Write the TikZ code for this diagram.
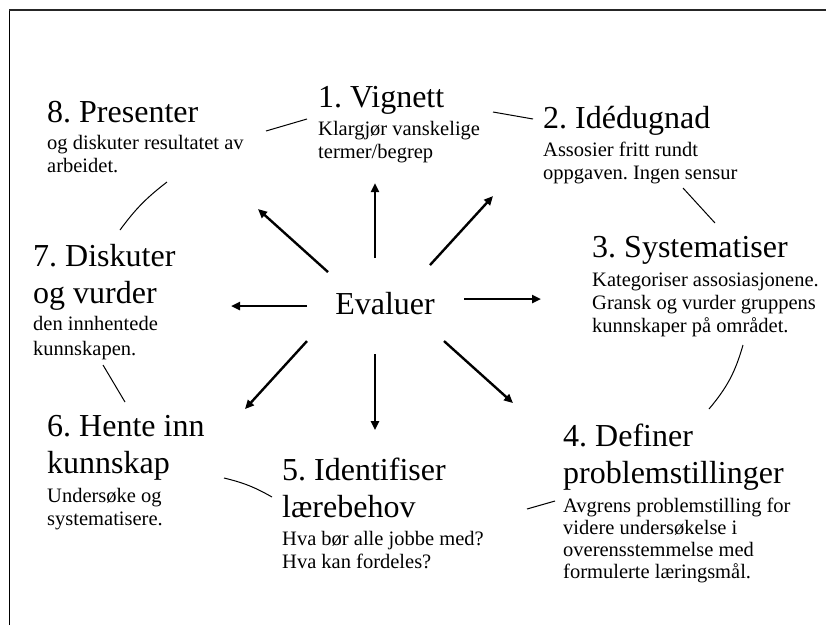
\documentclass[tikz,border=0pt]{standalone}
\usepackage{fontspec}
\setmainfont{Liberation Serif}
\usepackage{tikz}
\usetikzlibrary{arrows.meta, calc}
\tikzset{
  steptitle/.style={anchor=base west, inner sep=0pt, align=left, font=\fontsize{32}{37}\selectfont},
  stepbody/.style={anchor=base west, inner sep=0pt, align=left, font=\fontsize{20.5}{23}\selectfont},
  spoke/.style={-{Triangle[length=9pt, width=8pt]}, line width=2.4pt},
  ringline/.style={line width=1pt},
}

\begin{document}
\frenchspacing
\begin{tikzpicture}[x=1pt, y=-1pt]
  \useasboundingbox (0,0) rectangle (826,625);

  % Frame
  \coordinate (fr0) at (9,625);
  \coordinate (fr1) at (9,10);
  \coordinate (fr2) at (826,10);
  \draw[line width=0.8pt] (fr0) -- (fr1);
  \draw[line width=2pt, black!85] (fr1) -- (fr2);

  % Centre
  \node[anchor=base, inner sep=0pt, font=\fontsize{32}{37}\selectfont] (eval) at (385,314) {Evaluer};

  % Steps (placed at the baseline of their last line)
  \node[steptitle] (t1) at (318,107) {1. Vignett};
  \node[stepbody] (b1) at (318,158) {Klargjør vanskelige\\termer/begrep};

  \node[steptitle] (t2) at (543,128) {2. Idédugnad};
  \node[stepbody] (b2) at (543,179) {Assosier fritt rundt\\oppgaven. Ingen sensur};

  \node[steptitle] (t3) at (592,257) {3. Systematiser};
  \node[stepbody] (b3) at (592,332) {Kategoriser assosiasjonene.\\Gransk og vurder gruppens\\kunnskaper på området.};

  \node[steptitle] (t4) at (563,483) {4. Definer\\problemstillinger};
  \node[stepbody, font=\fontsize{20.5}{22}\selectfont] (b4) at (563,578) {Avgrens problemstilling for\\videre undersøkelse i\\overensstemmelse med\\formulerte læringsmål.};

  \node[steptitle] (t5) at (282,517) {5. Identifiser\\lærebehov};
  \node[stepbody] (b5) at (282,568) {Hva bør alle jobbe med?\\Hva kan fordeles?};

  \node[steptitle] (t6) at (47,473) {6. Hente inn\\kunnskap};
  \node[stepbody] (b6) at (47,525) {Undersøke og\\systematisere.};

  \node[steptitle] (t7) at (33,303) {7. Diskuter\\og vurder};
  \node[stepbody, font=\fontsize{20.5}{25}\selectfont] (b7) at (33,355) {den innhentede\\kunnskapen.};

  \node[steptitle] (t8) at (47,122) {8. Presenter};
  \node[stepbody] (b8) at (47,172) {og diskuter resultatet av\\arbeidet.};

  % Ring ends
  \coordinate (r81) at (266,131);  \coordinate (r18) at (307,119);
  \coordinate (r12) at (493,112);  \coordinate (r21) at (533,119);
  \coordinate (r23) at (683,188);  \coordinate (r32) at (715,223);
  \coordinate (r34) at (743,345);  \coordinate (r43) at (709,409);
  \coordinate (r45) at (555,501);  \coordinate (r54) at (527,509);
  \coordinate (r56) at (272,497);  \coordinate (r65) at (224,478);
  \coordinate (r67) at (125,402);  \coordinate (r76) at (103,365);
  \coordinate (r78) at (120,230);  \coordinate (r87) at (167,182);

  % Ring
  \draw[ringline] (r81) -- (r18);
  \draw[ringline] (r12) -- (r21);
  \draw[ringline] (r23) -- (r32);
  \draw[ringline] (r34) to[bend left=12] (r43);
  \draw[ringline] (r45) -- (r54);
  \draw[ringline] (r56) to[bend right=8] (r65);
  \draw[ringline] (r67) -- (r76);
  \draw[ringline] (r78) to[bend left=8] (r87);

  % Spokes
  \draw[spoke] ($(eval.center)+(-10,-45)$) -- ($(eval.center)+(-10,-120)$);
  \draw[spoke] ($(eval.center)+(45,-38)$) -- ($(eval.center)+(108,-107)$);
  \draw[spoke] ($(eval.center)+(79,-4)$) -- ($(eval.center)+(156,-4)$);
  \draw[spoke] ($(eval.center)+(59,38)$) -- ($(eval.center)+(128,100)$);
  \draw[spoke] ($(eval.center)+(-10,51)$) -- ($(eval.center)+(-10,127)$);
  \draw[spoke] ($(eval.center)+(-78,38)$) -- ($(eval.center)+(-140,106)$);
  \draw[spoke] ($(eval.center)+(-78,3)$) -- ($(eval.center)+(-154,3)$);
  \draw[spoke] ($(eval.center)+(-57,-31)$) -- ($(eval.center)+(-127,-94)$);
\end{tikzpicture}
\end{document}
